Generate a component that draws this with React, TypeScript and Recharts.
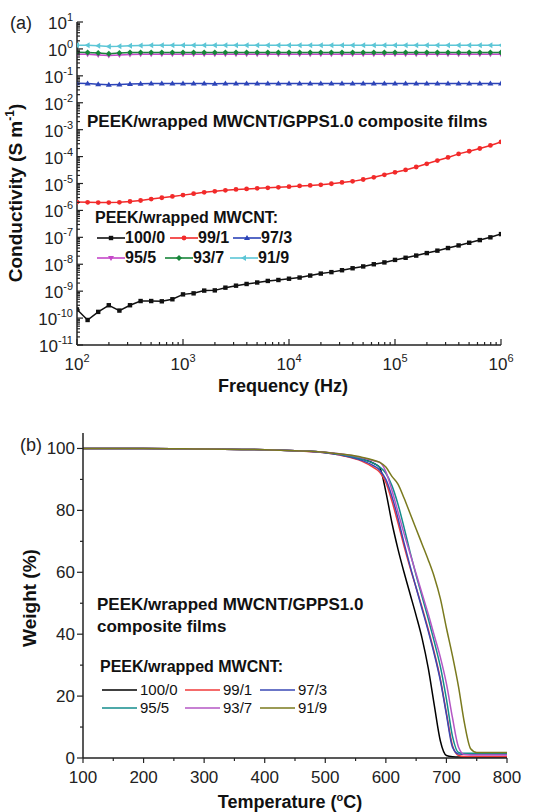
import React from "react";
import { LineChart, Line, XAxis, YAxis, Legend } from "recharts";

const FONT = 'Arial, "Liberation Sans", Helvetica, sans-serif';
const AXIS = "#222";

// ---- (a) conductivity vs frequency ----
const FREQ = [
  100, 125.9, 158.5, 199.5, 251.2, 316.2, 398.1, 501.2, 631, 794.3, 1000, 1259,
  1585, 1995, 2512, 3162, 3981, 5012, 6310, 7943, 10000, 12590, 15850, 19950,
  25120, 31620, 39810, 50120, 63100, 79430, 100000, 125900, 158500, 199500,
  251200, 316200, 398100, 501200, 631000, 794300, 1000000,
];
const S_100_0 = [
  2.1e-10, 8.5e-11, 1.7e-10, 3.0e-10, 1.9e-10, 3.0e-10, 4.3e-10, 4.3e-10, 4.2e-10, 5.0e-10,
  7.6e-10, 8.3e-10, 1.05e-9, 1.07e-9, 1.35e-9, 1.6e-9, 1.85e-9, 2.1e-9, 2.4e-9, 2.6e-9,
  2.9e-9, 3.2e-9, 3.8e-9, 4.5e-9, 5.1e-9, 6.0e-9, 7.1e-9, 8.3e-9, 1.0e-8, 1.17e-8,
  1.45e-8, 1.74e-8, 2.1e-8, 2.6e-8, 3.2e-8, 4.0e-8, 5.0e-8, 6.3e-8, 7.9e-8, 1.0e-7, 1.32e-7,
];
const S_99_1 = [
  2.04e-6, 2.0e-6, 1.95e-6, 1.95e-6, 2.0e-6, 2.14e-6, 2.34e-6, 2.63e-6, 2.95e-6, 3.3e-6,
  3.7e-6, 4.2e-6, 4.7e-6, 5.1e-6, 5.6e-6, 6.0e-6, 6.3e-6, 6.6e-6, 6.9e-6, 7.2e-6,
  7.6e-6, 8.1e-6, 8.5e-6, 8.9e-6, 9.8e-6, 1.1e-5, 1.2e-5, 1.41e-5, 1.7e-5, 2.1e-5,
  2.6e-5, 3.2e-5, 4.1e-5, 5.4e-5, 7.1e-5, 9.3e-5, 1.26e-4, 1.58e-4, 2.0e-4, 2.6e-4, 3.5e-4,
];
const S_97_3 = [
  0.053, 0.052, 0.049, 0.047, 0.048, 0.05, 0.051, 0.052, 0.052, 0.052,
  0.052, 0.052, 0.052, 0.051, 0.052, 0.052, 0.052, 0.052, 0.052, 0.052,
  0.052, 0.052, 0.052, 0.052, 0.052, 0.052, 0.052, 0.052, 0.052, 0.052,
  0.052, 0.052, 0.052, 0.052, 0.052, 0.052, 0.052, 0.052, 0.052, 0.052, 0.052,
];
const S_95_5 = [
  0.64, 0.63, 0.6, 0.57, 0.59, 0.62, 0.63, 0.63, 0.63, 0.63,
  0.63, 0.63, 0.63, 0.63, 0.63, 0.63, 0.63, 0.63, 0.63, 0.63,
  0.63, 0.63, 0.63, 0.63, 0.63, 0.63, 0.63, 0.63, 0.63, 0.63,
  0.63, 0.63, 0.63, 0.63, 0.63, 0.63, 0.63, 0.63, 0.63, 0.63, 0.63,
];
const S_93_7 = [
  0.75, 0.74, 0.71, 0.66, 0.7, 0.73, 0.74, 0.74, 0.74, 0.74,
  0.74, 0.74, 0.74, 0.74, 0.74, 0.74, 0.74, 0.74, 0.74, 0.74,
  0.74, 0.74, 0.74, 0.74, 0.74, 0.74, 0.74, 0.74, 0.74, 0.74,
  0.74, 0.74, 0.74, 0.74, 0.74, 0.74, 0.74, 0.74, 0.74, 0.74, 0.74,
];
const S_91_9 = [
  1.38, 1.36, 1.3, 1.24, 1.26, 1.32, 1.35, 1.36, 1.36, 1.36,
  1.36, 1.36, 1.36, 1.36, 1.36, 1.36, 1.36, 1.36, 1.36, 1.36,
  1.36, 1.36, 1.36, 1.36, 1.36, 1.36, 1.36, 1.36, 1.36, 1.36,
  1.36, 1.36, 1.36, 1.36, 1.36, 1.36, 1.36, 1.36, 1.36, 1.36, 1.36,
];
const FREQ_DECADES = [100, 1000, 10000, 100000, 1000000];
const COND_DECADES = [1e-11, 1e-10, 1e-9, 1e-8, 1e-7, 1e-6, 1e-5, 1e-4, 1e-3, 1e-2, 1e-1, 1, 10];

// ---- (b) TGA ----
const TEMP = [100, 200, 300, 400, 450, 500, 530, 560, 580, 590, 600, 610, 620, 630, 640, 650, 660, 670, 680, 690, 700, 710, 720, 730, 740, 750, 760, 800];
const W_100_0 = [100, 100, 99.8, 99.6, 99.3, 98.7, 97.9, 96.6, 95.2, 93.8, 86, 76, 67.5, 60, 53, 46, 38.5, 29, 17, 5.5, 0.8, 0.4, 0.3, 0.3, 0.3, 0.3, 0.3, 0.3];
const W_99_1 = [100, 100, 99.8, 99.6, 99.3, 98.6, 97.6, 95.9, 93.8, 92.3, 89, 83, 76, 68.5, 61.5, 55, 48.5, 41.5, 34, 25.5, 14.5, 4, 0.8, 0.5, 0.5, 0.5, 0.5, 0.5];
const W_97_3 = [100, 100, 99.8, 99.6, 99.3, 98.6, 97.7, 96.2, 94.4, 93, 90, 84.5, 77.5, 69.5, 62, 55, 48, 41, 33.5, 25, 14, 3.5, 1.3, 1.2, 1.2, 1.2, 1.2, 1.2];
const W_95_5 = [100, 100, 99.8, 99.6, 99.3, 98.7, 97.9, 96.6, 95.2, 94, 92, 88, 82, 74.5, 66.5, 59, 52, 45, 37.5, 29.5, 19, 7, 1.8, 1.5, 1.5, 1.5, 1.5, 1.5];
const W_93_7 = [100, 100, 99.8, 99.6, 99.3, 98.8, 98.1, 97, 96, 95.5, 92.5, 86.5, 79.5, 72.5, 66, 59.5, 53, 46.5, 39.5, 32.5, 24, 13, 3.5, 1.1, 1, 1, 1, 1];
const W_91_9 = [100, 100, 99.8, 99.6, 99.3, 98.8, 98.1, 97.2, 96.2, 95.5, 94, 91, 88.5, 84, 79, 74, 69, 64, 58.5, 51.5, 42, 33, 23, 11, 3, 1.8, 1.8, 1.8];
const TEMP_TICKS = [100, 150, 200, 250, 300, 350, 400, 450, 500, 550, 600, 650, 700, 750, 800];
const WEIGHT_TICKS = [0, 10, 20, 30, 40, 50, 60, 70, 80, 90, 100];

const condSeries = [
  { key: "s100_0", name: "100/0", values: S_100_0, color: "#111111", shape: "square" },
  { key: "s99_1", name: "99/1", values: S_99_1, color: "#f22a2a", shape: "circle" },
  { key: "s97_3", name: "97/3", values: S_97_3, color: "#2c44b8", shape: "up" },
  { key: "s95_5", name: "95/5", values: S_95_5, color: "#c548c8", shape: "down" },
  { key: "s93_7", name: "93/7", values: S_93_7, color: "#17853a", shape: "diamond" },
  { key: "s91_9", name: "91/9", values: S_91_9, color: "#5cc6d6", shape: "left" },
];
const tgaSeries = [
  { key: "w100_0", name: "100/0", values: W_100_0, color: "#000000" },
  { key: "w99_1", name: "99/1", values: W_99_1, color: "#f03a3a" },
  { key: "w97_3", name: "97/3", values: W_97_3, color: "#3a48b4" },
  { key: "w95_5", name: "95/5", values: W_95_5, color: "#138c8c" },
  { key: "w93_7", name: "93/7", values: W_93_7, color: "#b457c4" },
  { key: "w91_9", name: "91/9", values: W_91_9, color: "#7a7a1e" },
];

const condData = FREQ.map((f, i) => {
  const row: any = { f };
  condSeries.forEach((s) => (row[s.key] = s.values[i]));
  return row;
});
const tgaData = TEMP.map((t, i) => {
  const row: any = { t };
  tgaSeries.forEach((s) => (row[s.key] = s.values[i]));
  return row;
});

const minorOf = (decades: number[]) =>
  decades.slice(0, -1).flatMap((d) => [2, 3, 4, 5, 6, 7, 8, 9].map((k) => k * d));
const FREQ_TICKS = [...FREQ_DECADES, ...minorOf(FREQ_DECADES)].sort((a, b) => a - b);
const COND_TICKS = [...COND_DECADES, ...minorOf(COND_DECADES)].sort((a, b) => a - b);

function Marker({ shape, cx, cy, color }: any) {
  if (cx == null || cy == null) return null;
  switch (shape) {
    case "square":
      return <rect x={cx - 2.2} y={cy - 2.2} width={4.4} height={4.4} fill={color} />;
    case "circle":
      return <circle cx={cx} cy={cy} r={2.4} fill={color} />;
    case "up":
      return <polygon points={`${cx},${cy - 3} ${cx - 3},${cy + 2} ${cx + 3},${cy + 2}`} fill={color} />;
    case "down":
      return <polygon points={`${cx},${cy + 3} ${cx - 3},${cy - 2} ${cx + 3},${cy - 2}`} fill={color} />;
    case "diamond":
      return <polygon points={`${cx},${cy - 3} ${cx + 3},${cy} ${cx},${cy + 3} ${cx - 3},${cy}`} fill={color} />;
    default:
      return <polygon points={`${cx - 3},${cy} ${cx + 2},${cy - 3} ${cx + 2},${cy + 3}`} fill={color} />;
  }
}

const isDecade = (v: number) => Math.abs(Math.log10(v) - Math.round(Math.log10(v))) < 1e-6;

function FreqTick({ x, y, payload }: any) {
  const v = payload.value;
  const major = isDecade(v);
  return (
    <g>
      <line x1={x} x2={x} y1={y} y2={y - (major ? 6 : 3)} stroke={AXIS} strokeWidth={1.2} />
      {major && (
        <text x={x} y={y + 25} textAnchor="middle" fontSize={17} fontFamily={FONT} fill="#222">
          10<tspan dy={-8} fontSize={11}>{Math.round(Math.log10(v))}</tspan>
        </text>
      )}
    </g>
  );
}

function CondTick({ x, y, payload }: any) {
  const v = payload.value;
  const major = isDecade(v);
  return (
    <g>
      <line x1={x} x2={x + (major ? 6 : 3)} y1={y} y2={y} stroke={AXIS} strokeWidth={1.2} />
      {major && (
        <text x={x - 4} y={y + 7} textAnchor="end" fontSize={17} fontFamily={FONT} fill="#222">
          10<tspan dy={-8} fontSize={11}>{Math.round(Math.log10(v))}</tspan>
        </text>
      )}
    </g>
  );
}

function TempTick({ x, y, payload }: any) {
  const v = payload.value;
  const major = v % 100 === 0;
  return (
    <g>
      <line x1={x} x2={x} y1={y} y2={y + (major ? 5 : 3)} stroke={AXIS} strokeWidth={1.2} />
      {major && (
        <text x={x} y={y + 25} textAnchor="middle" fontSize={17} fontFamily={FONT} fill="#222">
          {v}
        </text>
      )}
    </g>
  );
}

function WeightTick({ x, y, payload }: any) {
  const v = payload.value;
  const major = v % 20 === 0;
  return (
    <g>
      <line x1={x} x2={x - (major ? 6 : 3)} y1={y} y2={y} stroke={AXIS} strokeWidth={1.2} />
      {major && (
        <text x={x - 8} y={y + 6} textAnchor="end" fontSize={17} fontFamily={FONT} fill="#222">
          {v}
        </text>
      )}
    </g>
  );
}

function CondLegend() {
  const pos = [
    [97, 228], [170, 228], [233, 228],
    [97, 248], [165, 248], [230, 248],
  ];
  return (
    <div style={{ position: "relative", width: 538, height: 400, fontFamily: FONT, fontWeight: 700, color: "#111" }}>
      <div style={{ position: "absolute", left: 87, top: 112, fontSize: 17, lineHeight: "20px", whiteSpace: "nowrap" }}>
        PEEK/wrapped MWCNT/GPPS1.0 composite films
      </div>
      <div style={{ position: "absolute", left: 95, top: 208, fontSize: 16, lineHeight: "20px", whiteSpace: "nowrap" }}>
        PEEK/wrapped MWCNT:
      </div>
      {condSeries.map((s, i) => (
        <div key={s.key} style={{ position: "absolute", left: pos[i][0], top: pos[i][1], display: "flex", alignItems: "center", fontSize: 16, lineHeight: "20px" }}>
          <svg width={28} height={12}>
            <line x1={0} x2={28} y1={6} y2={6} stroke={s.color} strokeWidth={1.6} />
            <Marker shape={s.shape} cx={14} cy={6} color={s.color} />
          </svg>
          <span>{s.name}</span>
        </div>
      ))}
    </div>
  );
}

function TgaLegend() {
  const pos = [
    [102, 280], [185, 280], [260, 280],
    [102, 298], [185, 298], [260, 298],
  ];
  return (
    <div style={{ position: "relative", width: 538, height: 412, fontFamily: FONT, color: "#111" }}>
      <div style={{ position: "absolute", left: 97, top: 194, fontSize: 17, fontWeight: 700, lineHeight: "22px", whiteSpace: "nowrap" }}>
        PEEK/wrapped MWCNT/GPPS1.0
        <br />
        composite films
      </div>
      <div style={{ position: "absolute", left: 100, top: 257, fontSize: 16, fontWeight: 700, lineHeight: "20px", whiteSpace: "nowrap" }}>
        PEEK/wrapped MWCNT:
      </div>
      {tgaSeries.map((s, i) => (
        <div key={s.key} style={{ position: "absolute", left: pos[i][0], top: pos[i][1], display: "flex", alignItems: "center", fontSize: 15, lineHeight: "20px" }}>
          <svg width={35} height={10} style={{ marginRight: 3 }}>
            <line x1={0} x2={35} y1={5} y2={5} stroke={s.color} strokeWidth={1.6} />
          </svg>
          <span>{s.name}</span>
        </div>
      ))}
    </div>
  );
}

function makeDot(shape: string, color: string, key: string) {
  return (p: any) => <Marker key={`${key}-${p.index}`} shape={shape} cx={p.cx} cy={p.cy} color={color} />;
}

const axisLine = { stroke: AXIS, strokeWidth: 1.5 };

export default function App() {
  return (
    <div style={{ position: "absolute", left: 0, top: 0, width: 538, height: 812, background: "#fff", fontFamily: FONT }}>
      <div style={{ position: "absolute", left: 0, top: 0 }}>
        <LineChart width={538} height={400} data={condData} margin={{ top: 22, right: 37, bottom: 15, left: 17 }}>
          <XAxis dataKey="f" type="number" scale="log" domain={[100, 1e6]} allowDataOverflow ticks={FREQ_TICKS} interval={0}
            tick={(p: any) => <FreqTick {...p} />} tickSize={0} tickMargin={0} tickLine={false} axisLine={axisLine} height={40} />
          <XAxis xAxisId="top" orientation="top" dataKey="f" type="number" scale="log" domain={[100, 1e6]} allowDataOverflow
            tick={false} tickLine={false} axisLine={axisLine} height={0} />
          <YAxis type="number" scale="log" domain={[1e-11, 10]} allowDataOverflow ticks={COND_TICKS} interval={0}
            tick={(p: any) => <CondTick {...p} />} tickSize={0} tickMargin={0} tickLine={false} axisLine={axisLine} width={60} />
          <YAxis yAxisId="right" orientation="right" type="number" scale="log" domain={[1e-11, 10]} allowDataOverflow
            tick={false} tickLine={false} axisLine={axisLine} width={0} />
          {condSeries.map((s) => (
            <Line key={s.key} dataKey={s.key} name={s.name} type="linear" stroke={s.color} strokeWidth={1.5}
              dot={makeDot(s.shape, s.color, s.key)} isAnimationActive={false} />
          ))}
          <Legend layout="horizontal" verticalAlign="middle" align="center" content={() => <CondLegend />}
            wrapperStyle={{ left: 0, top: 0, width: 538, height: 400, pointerEvents: "none" }} />
        </LineChart>
      </div>
      <div style={{ position: "absolute", left: 0, top: 400 }}>
        <LineChart width={538} height={412} data={tgaData} margin={{ top: 33, right: 31, bottom: 14, left: 23 }}>
          <XAxis dataKey="t" type="number" domain={[100, 800]} allowDataOverflow ticks={TEMP_TICKS} interval={0}
            tick={(p: any) => <TempTick {...p} />} tickSize={0} tickMargin={0} tickLine={false} axisLine={axisLine} height={40} />
          <XAxis xAxisId="top" orientation="top" dataKey="t" type="number" domain={[100, 800]} allowDataOverflow
            tick={false} tickLine={false} axisLine={axisLine} height={0} />
          <YAxis type="number" domain={[0, 105]} allowDataOverflow ticks={WEIGHT_TICKS} interval={0}
            tick={(p: any) => <WeightTick {...p} />} tickSize={0} tickMargin={0} tickLine={false} axisLine={axisLine} width={60} />
          <YAxis yAxisId="right" orientation="right" type="number" domain={[0, 105]} allowDataOverflow
            tick={false} tickLine={false} axisLine={axisLine} width={0} />
          {tgaSeries.map((s) => (
            <Line key={s.key} dataKey={s.key} name={s.name} type="monotone" stroke={s.color} strokeWidth={1.5}
              dot={false} isAnimationActive={false} />
          ))}
          <Legend layout="horizontal" verticalAlign="middle" align="center" content={() => <TgaLegend />}
            wrapperStyle={{ left: 0, top: 0, width: 538, height: 412, pointerEvents: "none" }} />
        </LineChart>
      </div>
      <svg width={538} height={812} style={{ position: "absolute", left: 0, top: 0, pointerEvents: "none" }} fontFamily={FONT}>
        <text x={10} y={29} fontSize={18} fill="#222">(a)</text>
        <text x={22} y={193} transform="rotate(-90 22 193)" textAnchor="middle" fontSize={19} fontWeight={700} fill="#111">
          Conductivity (S m<tspan dy={-8} fontSize={12}>-1</tspan><tspan dy={8}>)</tspan>
        </text>
        <text x={283} y={392} textAnchor="middle" fontSize={18} fontWeight={700} fill="#111">Frequency (Hz)</text>
        <text x={20} y={451} fontSize={18} fill="#222">(b)</text>
        <text x={36} y={598} transform="rotate(-90 36 598)" textAnchor="middle" fontSize={19} fontWeight={700} fill="#111">Weight (%)</text>
        <text x={290} y={808} textAnchor="middle" fontSize={18} fontWeight={700} fill="#111">
          Temperature (<tspan dy={-7} fontSize={11}>o</tspan><tspan dy={7}>C)</tspan>
        </text>
      </svg>
    </div>
  );
}
